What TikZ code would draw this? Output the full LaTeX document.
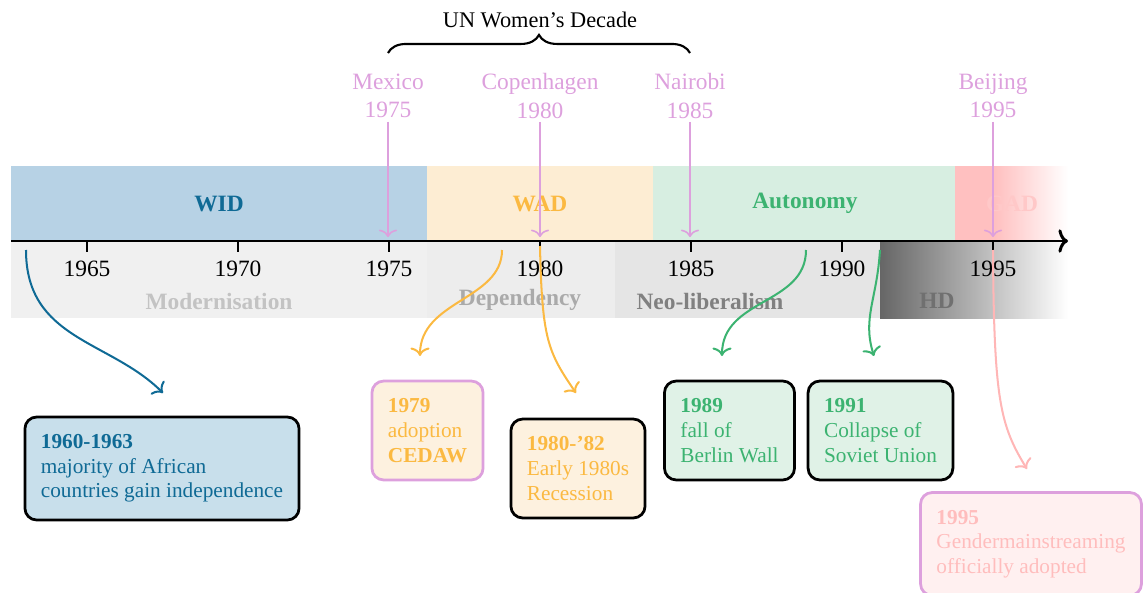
\documentclass[tikz,border=0pt]{standalone}
\usepackage{fontspec}
\setmainfont{Liberation Serif}
\usetikzlibrary{arrows.meta,decorations.pathreplacing}
\definecolor{widfill}{HTML}{B7D2E5}
\definecolor{widtext}{HTML}{0F6A95}
\definecolor{widbox}{HTML}{C8DFEB}
\definecolor{wadfill}{HTML}{FDEDD3}
\definecolor{wadtext}{HTML}{FBB941}
\definecolor{wadbox}{HTML}{FDF1DF}
\definecolor{autfill}{HTML}{D7EEE1}
\definecolor{auttext}{HTML}{3CB371}
\definecolor{autbox}{HTML}{E0F2E7}
\definecolor{gadfill}{HTML}{FFC0C0}
\definecolor{gadtext}{HTML}{FFC8C8}
\definecolor{gadline}{HTML}{FFB6B6}
\definecolor{gadbox}{HTML}{FFF0F0}
\definecolor{boxpink}{HTML}{FFBDBD}
\definecolor{venue}{HTML}{DDA0DD}
\definecolor{modfill}{HTML}{F0F0F0}
\definecolor{depfill}{HTML}{EDEDED}
\definecolor{neofill}{HTML}{E5E5E5}
\definecolor{hdgray}{HTML}{666666}
\definecolor{modtext}{HTML}{C3C3C3}
\definecolor{deptext}{HTML}{AAAAAA}
\definecolor{neotext}{HTML}{808080}
\definecolor{hdtext}{HTML}{707070}
\begin{document}
\begin{tikzpicture}[x=0.47pt,y=-0.47pt,
  bandlabel/.style={font=\fontsize{11}{13}\selectfont\bfseries, inner sep=1pt},
  ticklabel/.style={font=\fontsize{11}{13}\selectfont, inner sep=1pt},
  venuelabel/.style={font=\fontsize{11}{13.2}\selectfont, text=venue, align=center, inner sep=1.5pt},
  venuearrow/.style={draw=venue, line width=0.75pt, -{To[length=3.5pt,width=8.5pt]}},
  axisline/.style={line width=1.4pt, -{To[length=4.5pt,width=11pt]}},
  tickmark/.style={line width=1.4pt},
  conn/.style={line width=0.95pt, -{To[length=4pt,width=9pt]}},
  evbox/.style={draw, rounded corners=5.5pt, line width=1.3pt, inner xsep=7.5pt,
    align=left, minimum height=46.5pt, font=\fontsize{10}{11.6}\selectfont},
]
\useasboundingbox (0,0) rectangle (1148,593);

% upper bands
\fill[widfill] (11,166) rectangle (427,241);
\fill[wadfill] (427,166) rectangle (653,241);
\fill[autfill] (653,166) rectangle (955,241);
\fill[gadfill] (955,166) rectangle (996,241);
\shade[left color=gadfill,right color=white] (995,166) rectangle (1068,241);
% lower bands
\fill[modfill] (11,241) rectangle (427,318);
\fill[depfill] (427,241) rectangle (615,318);
\fill[neofill] (615,241) rectangle (880,318);
\shade[left color=hdgray,right color=white] (880,241) rectangle (1068,318);

% band labels
\node[bandlabel, text=widtext] (wid) at (219,204) {WID};
\node[bandlabel, text=wadtext] (wad) at (540,204) {WAD};
\node[bandlabel, text=auttext] (aut) at (805,203) {Autonomy};
\node[bandlabel, text=gadtext] (gad) at (1012,204) {GAD};
\node[bandlabel, text=modtext] (mod) at (219,301) {Modernisation};
\node[bandlabel, text=deptext] (dep) at (520,300) {Dependency};
\node[bandlabel, text=neotext] (neo) at (710,301) {Neo-liberalism};
\node[bandlabel, text=hdtext] (hd) at (937,301) {HD};

% axis
\coordinate (axstart) at (11,241);
\coordinate (axend) at (1068,241);
\draw[axisline] (axstart) -- (axend);
\foreach \yr in {1965,1970,...,1995}{
  \pgfmathsetmacro{\xx}{87+30.2*(\yr-1965)}
  \coordinate (k\yr) at (\xx,241);
  \coordinate (kb\yr) at (\xx,252);
  \draw[tickmark] (k\yr) -- (kb\yr);
  \node[ticklabel] (t\yr) at (\xx,269) {\yr};
}

% brace
\coordinate (brl) at (388,53);
\coordinate (brr) at (690,53);
\draw[decorate, decoration={brace, amplitude=8.5pt}, line width=1pt] (brl) -- (brr);
\node[font=\fontsize{10.5}{12}\selectfont, inner sep=1pt] (decade) at (540,20) {UN Women’s Decade};

% venues
\node[venuelabel] (mexico) at (388,96) {Mexico\\1975};
\node[venuelabel] (copen) at (540,96) {Copenhagen\\1980};
\node[venuelabel] (nairobi) at (690,96) {Nairobi\\1985};
\node[venuelabel] (beijing) at (993,96) {Beijing\\1995};
\coordinate (v1975) at (388,237);
\coordinate (v1980) at (540,237);
\coordinate (v1985) at (690,237);
\coordinate (v1995) at (993,237);

% connector starts / ends
\coordinate (s1) at (26,250);   \coordinate (e1) at (163,393);
\coordinate (s2) at (502,250);  \coordinate (e2) at (420,356);
\coordinate (s3) at (540,246);  \coordinate (e3) at (576,393);
\coordinate (s4) at (806,250);  \coordinate (e4) at (722,356);
\coordinate (s5) at (880,250);  \coordinate (e5) at (874,356);
\coordinate (s6) at (993,250);  \coordinate (e6) at (1027,469);

\draw[conn, draw=widtext] (s1) .. controls (26,340) and (110,340) .. (e1);
\draw[conn, draw=wadtext] (s2) .. controls (502,300) and (420,300) .. (e2);
\draw[conn, draw=wadtext] (s3) .. controls (542,340) and (548,352) .. (e3);
\draw[conn, draw=auttext] (s4) .. controls (806,305) and (722,298) .. (e4);
\draw[conn, draw=auttext] (s5) .. controls (877,300) and (862,318) .. (e5);
\draw[conn, draw=gadline] (s6) .. controls (994,400) and (1000,425) .. (e6);

\draw[venuearrow] (mexico.south) -- (v1975);
\draw[venuearrow] (copen.south) -- (v1980);
\draw[venuearrow] (nairobi.south) -- (v1985);
\draw[venuearrow] (beijing.south) -- (v1995);

% event boxes
\node[evbox, fill=widbox, text=widtext, minimum height=48.4pt] (b1) at (162,468.5)
  {\textbf{1960-1963}\\majority of African\\countries gain independence};
\node[evbox, draw=venue, fill=wadbox, text=wadtext] (b2) at (427.5,430.5)
  {\textbf{1979}\\adoption\\\textbf{CEDAW}};
\node[evbox, fill=wadbox, text=wadtext] (b3) at (578,468.5)
  {\textbf{1980-’82}\\Early 1980s\\Recession};
\node[evbox, fill=autbox, text=auttext] (b4) at (729.5,430.5)
  {\textbf{1989}\\fall of\\Berlin Wall};
\node[evbox, fill=autbox, text=auttext] (b5) at (880.5,430.5)
  {\textbf{1991}\\Collapse of\\Soviet Union};
\node[evbox, draw=venue, fill=gadbox, text=boxpink, minimum height=48.4pt] (b6) at (1031,544)
  {\textbf{1995}\\Gendermainstreaming\\officially adopted};
\end{tikzpicture}
\end{document}
